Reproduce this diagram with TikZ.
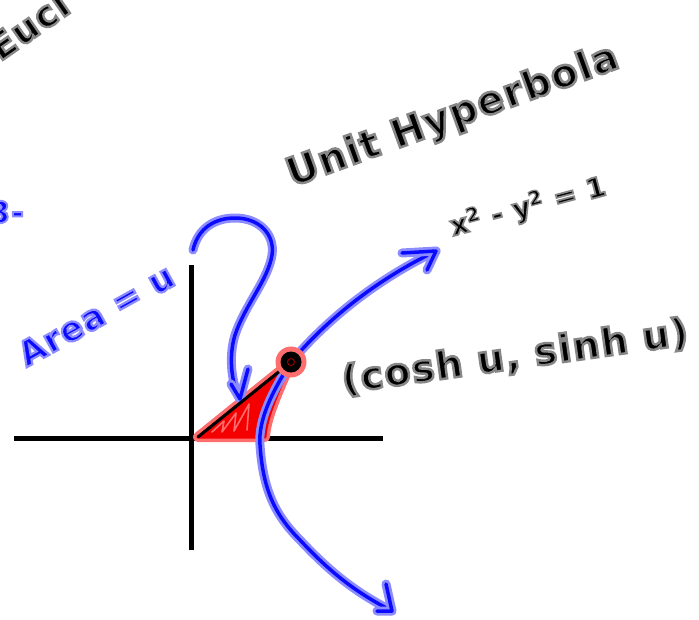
\documentclass[tikz,border=0pt]{standalone}
\usepackage{fontspec}
\setmainfont{DejaVu Sans}
\newfontfamily\inkfont[FakeBold=6.5,LetterSpace=4]{DejaVu Sans Bold}
\definecolor{inkblue}{RGB}{10,10,255}
\definecolor{haloblue}{RGB}{140,140,255}
\definecolor{inkred}{RGB}{245,0,0}
\definecolor{halored}{RGB}{255,110,110}
% #1 fill colour, #2 stroke (halo) colour as "r g b", #3 text
\newcommand{\hwtext}[3]{{\inkfont\color{#1}\special{pdf:literal direct #2 RG}#3}}
\begin{document}
\begin{tikzpicture}[x=1pt,y=-1pt,
  blueink/.style={draw=inkblue,line width=3.5pt,line cap=round,line join=round,preaction={draw=haloblue,line width=9pt,line cap=round,line join=round}},
  redink/.style={draw=inkred,fill=inkred,line width=3pt,line cap=round,line join=round,preaction={draw=halored,line width=10pt,line cap=round,line join=round}},
  scrib/.style={draw=halored,line width=1.6pt,line cap=round,line join=round},
  axis/.style={draw=black,line width=5pt},
  radius/.style={draw=black,line width=3pt,line cap=round},
  hw/.style={inner sep=0pt}]
\useasboundingbox (0,0) rectangle (699,619);
\clip (0,0) rectangle (699,619);
% coordinates
\coordinate (xl) at (14,438);
\coordinate (xr) at (383,438);
\coordinate (yt) at (191,265);
\coordinate (yb) at (191,550);
\coordinate (O) at (198,437);
\coordinate (P) at (291,362);
\coordinate (B) at (265,437);
\coordinate (U) at (436,251);
\coordinate (L) at (392,611);
\coordinate (S) at (193,250);
\coordinate (T) at (240,399);
% axes
\draw[axis] (xl) -- (xr);
\draw[axis] (yt) -- (yb);
% shaded area
\filldraw[redink] (O) -- (P) .. controls (278,392) and (266,418) .. (B) -- cycle;
\draw[scrib] (212,432) -- (224,421) -- (222,432) -- (236,413) -- (234,431) -- (249,404) -- (247,430);
% hyperbola
\draw[blueink] (P) .. controls (330,316) and (380,278) .. (U);
\draw[blueink] (402,253) -- (U) -- (427,270);
\draw[blueink] (P) .. controls (272,392) and (258,420) .. (260,445) .. controls (263,490) and (275,515) .. (300,540) .. controls (330,572) and (355,592) .. (L);
\draw[blueink] (386,584) -- (L) -- (377,611);
% area arrow
\draw[blueink] (S) .. controls (198,228) and (215,218) .. (235,218) .. controls (260,218) and (275,235) .. (272,255) .. controls (268,280) and (245,305) .. (235,335) .. controls (228,358) and (232,385) .. (T);
\draw[blueink] (231,384) -- (T) -- (248,369);
% radius and point
\draw[radius] (O) -- (P);
\fill[halored] (P) circle (15.5);
\fill[black] (P) circle (10.5);
\draw[red!60!black,line width=1pt] (P) circle (3.5);
% texts
\node[hw,rotate=20] (title) at (453,117) {\fontsize{39}{46}\selectfont\hwtext{black}{0.53 0.53 0.53}{Unit Hyperbola}};
\node[hw,rotate=15] (eq) at (528,207) {\fontsize{27.5}{34}\selectfont\hwtext{black}{0.53 0.53 0.53}{x\textsuperscript{2} - y\textsuperscript{2} = 1}};
\node[hw,rotate=8] (pt) at (515,357) {\fontsize{38}{46}\selectfont\hwtext{black}{0.53 0.53 0.53}{(cosh u, sinh u)}};
\node[hw,rotate=29] (area) at (96,315) {\fontsize{34}{42}\selectfont\hwtext{inkblue}{0.55 0.55 1}{Area = u}};
\node[hw,rotate=35,anchor=base west] (eu) at (0,62) {\fontsize{36}{42}\selectfont\hwtext{black}{0.53 0.53 0.53}{Eucl}};
\node[hw,anchor=east] (three) at (24,212) {\fontsize{30}{36}\selectfont\hwtext{inkblue}{0.55 0.55 1}{3-}};
\end{tikzpicture}
\end{document}
